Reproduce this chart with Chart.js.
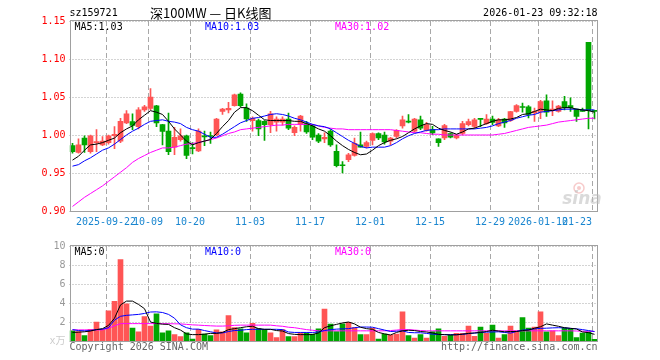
<!DOCTYPE html>
<html>
<head>
<meta charset="utf-8">
<script src="https://cdn.jsdelivr.net/npm/chart.js@4.4.1/dist/chart.umd.min.js"></script>
<style>
  html, body { margin: 0; padding: 0; background: #fff; }
  #wrap { position: relative; width: 660px; height: 360px; }
  canvas { position: absolute; left: 0; }
  #kline { top: 0; }
  #vol { top: 236px; }
</style>
</head>
<body>
<div id="wrap">
  <canvas id="kline" width="660" height="236"></canvas>
  <canvas id="vol" width="660" height="124"></canvas>
</div>
<script>
const DATES = [
  "2025-09-12", "2025-09-15", "2025-09-16", "2025-09-17", "2025-09-18", "2025-09-19", "2025-09-22", "2025-09-23", "2025-09-24", "2025-09-25",
  "2025-09-26", "2025-09-29", "2025-09-30", "2025-10-09", "2025-10-10", "2025-10-13", "2025-10-14", "2025-10-15", "2025-10-16", "2025-10-17",
  "2025-10-20", "2025-10-21", "2025-10-22", "2025-10-23", "2025-10-24", "2025-10-27", "2025-10-28", "2025-10-29", "2025-10-30", "2025-10-31",
  "2025-11-03", "2025-11-04", "2025-11-05", "2025-11-06", "2025-11-07", "2025-11-10", "2025-11-11", "2025-11-12", "2025-11-13", "2025-11-14",
  "2025-11-17", "2025-11-18", "2025-11-19", "2025-11-20", "2025-11-21", "2025-11-24", "2025-11-25", "2025-11-26", "2025-11-27", "2025-11-28",
  "2025-12-01", "2025-12-02", "2025-12-03", "2025-12-04", "2025-12-05", "2025-12-08", "2025-12-09", "2025-12-10", "2025-12-11", "2025-12-12",
  "2025-12-15", "2025-12-16", "2025-12-17", "2025-12-18", "2025-12-19", "2025-12-22", "2025-12-23", "2025-12-24", "2025-12-25", "2025-12-26",
  "2025-12-29", "2025-12-30", "2025-12-31", "2026-01-05", "2026-01-06", "2026-01-07", "2026-01-08", "2026-01-09", "2026-01-12", "2026-01-13",
  "2026-01-14", "2026-01-15", "2026-01-16", "2026-01-19", "2026-01-20", "2026-01-21", "2026-01-22", "2026-01-23"
];

const OPEN = [
  0.986, 0.977, 0.996, 0.978, 0.990, 0.987, 0.990, 0.999, 0.992, 1.016,
  1.0175, 1.011, 1.033, 1.035, 1.0385, 1.0136, 1.005, 0.984, 0.994, 0.999,
  0.9835, 0.979, 0.9985, 0.999, 1.000, 1.031, 1.033, 1.0386, 1.054, 1.0355,
  1.019, 1.019, 1.018, 1.0136, 1.017, 1.017, 1.021, 1.003, 1.014, 1.015,
  1.012, 1.000, 0.995, 1.005, 0.9785, 0.9605, 0.9675, 0.973, 0.987, 0.985,
  0.993, 1.002, 1.000, 0.992, 0.998, 1.012, 1.0175, 1.005, 1.020, 1.006,
  1.007, 0.995, 0.996, 1.002, 0.996, 1.002, 1.0136, 1.0114, 1.021, 1.015,
  1.021, 1.012, 1.021, 1.0193, 1.031, 1.037, 1.037, 1.029, 1.031, 1.045,
  1.032, 1.031, 1.044, 1.0386, 1.034, 1.0315, 1.122, 1.032
];
const HIGH = [
  0.989, 0.995, 0.999, 1.000, 1.007, 0.998, 1.000, 1.011, 1.022, 1.032,
  1.028, 1.036, 1.039, 1.061, 1.039, 1.014, 1.029, 1.010, 1.008, 1.000,
  0.990, 1.008, 1.005, 1.004, 1.022, 1.035, 1.043, 1.054, 1.0555, 1.041,
  1.024, 1.021, 1.019, 1.031, 1.024, 1.024, 1.029, 1.012, 1.026, 1.018,
  1.014, 1.002, 1.003, 1.007, 0.987, 0.965, 0.976, 0.996, 1.004, 0.992,
  1.003, 1.003, 1.004, 0.997, 1.007, 1.025, 1.027, 1.022, 1.025, 1.0167,
  1.0114, 0.995, 1.014, 1.003, 1.001, 1.018, 1.021, 1.022, 1.021, 1.027,
  1.025, 1.022, 1.022, 1.031, 1.040, 1.042, 1.0386, 1.0355, 1.0456, 1.053,
  1.045, 1.039, 1.051, 1.049, 1.034, 1.0355, 1.122, 1.032
];
const LOW = [
  0.976, 0.976, 0.977, 0.976, 0.978, 0.986, 0.988, 0.982, 0.990, 1.015,
  1.007, 1.008, 1.031, 1.033, 1.011, 0.987, 0.974, 0.974, 0.992, 0.969,
  0.975, 0.978, 0.986, 0.989, 0.999, 1.027, 1.029, 1.038, 1.037, 1.018,
  1.005, 0.999, 0.993, 1.003, 1.005, 1.013, 1.007, 0.999, 1.005, 1.002,
  0.994, 0.990, 0.990, 0.985, 0.958, 0.950, 0.965, 0.972, 0.984, 0.983,
  0.987, 0.994, 0.988, 0.987, 0.996, 1.009, 1.016, 1.0035, 1.007, 1.005,
  1.0004, 0.985, 0.994, 0.996, 0.995, 1.000, 1.012, 1.009, 1.011, 1.014,
  1.0136, 1.011, 1.010, 1.018, 1.030, 1.030, 1.0224, 1.018, 1.0215, 1.0245,
  1.0254, 1.030, 1.033, 1.031, 1.018, 1.031, 1.008, 1.021
];
const CLOSE = [
  0.978, 0.987, 0.987, 0.999, 0.991, 0.992, 0.999, 1.001, 1.018, 1.028,
  1.0126, 1.033, 1.037, 1.050, 1.016, 1.0047, 0.978, 0.997, 0.999, 0.973,
  0.982, 1.005, 0.9975, 0.998, 1.021, 1.034, 1.035, 1.053, 1.0386, 1.021,
  1.022, 1.008, 1.0136, 1.028, 1.021, 1.021, 1.009, 1.010, 1.025, 1.004,
  0.997, 0.992, 0.997, 0.987, 0.9596, 0.9595, 0.974, 0.989, 0.984, 0.990,
  1.002, 0.996, 0.991, 0.996, 1.006, 1.020, 1.017, 1.021, 1.009, 1.0136,
  1.0026, 0.990, 1.0125, 0.997, 1.000, 1.015, 1.0175, 1.020, 1.0205, 1.021,
  1.0167, 1.020, 1.016, 1.0307, 1.0386, 1.0362, 1.027, 1.031, 1.044, 1.030,
  1.034, 1.038, 1.036, 1.036, 1.0246, 1.031, 1.032, 1.031
];

const MA5 = [
  0.967, 0.972, 0.980, 0.987, 0.988, 0.990, 0.993, 0.996, 1.003, 1.008,
  1.012, 1.020, 1.026, 1.032, 1.030, 1.027, 1.018, 1.008, 1.000, 0.992,
  0.987, 0.990, 0.992, 0.994, 1.002, 1.011, 1.019, 1.030, 1.036, 1.036,
  1.032, 1.026, 1.020, 1.019, 1.019, 1.019, 1.019, 1.018, 1.018, 1.015,
  1.012, 1.008, 1.005, 0.999, 0.992, 0.986, 0.981, 0.977, 0.974, 0.975,
  0.980, 0.986, 0.990, 0.993, 0.995, 0.998, 1.003, 1.008, 1.012, 1.015,
  1.014, 1.009, 1.006, 1.004, 1.001, 1.004, 1.008, 1.009, 1.012, 1.015,
  1.018, 1.020, 1.020, 1.021, 1.023, 1.027, 1.028, 1.031, 1.034, 1.033,
  1.032, 1.035, 1.036, 1.036, 1.034, 1.033, 1.032, 1.030
];
const MA10 = [
  0.959, 0.961, 0.966, 0.970, 0.975, 0.980, 0.983, 0.988, 0.994, 1.000,
  1.005, 1.009, 1.014, 1.018, 1.019, 1.020, 1.018, 1.017, 1.015, 1.010,
  1.007, 1.005, 1.001, 0.997, 0.997, 1.001, 1.006, 1.011, 1.016, 1.019,
  1.022, 1.023, 1.025, 1.027, 1.028, 1.027, 1.025, 1.022, 1.020, 1.017,
  1.014, 1.012, 1.011, 1.008, 1.003, 0.998, 0.993, 0.989, 0.985, 0.983,
  0.984, 0.984, 0.984, 0.986, 0.990, 0.995, 0.999, 1.002, 1.004, 1.006,
  1.007, 1.007, 1.008, 1.008, 1.008, 1.008, 1.008, 1.008, 1.009, 1.010,
  1.012, 1.015, 1.017, 1.019, 1.022, 1.024, 1.026, 1.027, 1.030, 1.031,
  1.032, 1.033, 1.034, 1.034, 1.034, 1.033, 1.033, 1.033
];
const MA30 = [
  0.906, 0.912, 0.918, 0.923, 0.928, 0.933, 0.939, 0.945, 0.951, 0.957,
  0.964, 0.969, 0.973, 0.977, 0.980, 0.983, 0.983, 0.984, 0.986, 0.988,
  0.989, 0.990, 0.992, 0.994, 0.996, 0.999, 1.002, 1.004, 1.007, 1.008,
  1.009, 1.010, 1.011, 1.012, 1.013, 1.013, 1.014, 1.014, 1.014, 1.014,
  1.014, 1.012, 1.010, 1.009, 1.008, 1.008, 1.007, 1.007, 1.007, 1.007,
  1.007, 1.007, 1.007, 1.007, 1.006, 1.005, 1.004, 1.003, 1.003, 1.002,
  1.001, 1.001, 1.000, 1.000, 1.000, 1.000, 1.000, 1.000, 1.000, 1.000,
  1.000, 1.001, 1.002, 1.004, 1.006, 1.008, 1.010, 1.011, 1.012, 1.013,
  1.015, 1.017, 1.018, 1.019, 1.020, 1.021, 1.022, 1.022
];

const VOLUME = [
  1.07, 1.0, 0.57, 1.23, 2.0, 1.23, 3.17, 4.17, 8.57, 3.9,
  1.37, 0.97, 2.57, 1.57, 2.87, 0.87, 1.07, 0.67, 0.47, 0.87,
  0.2, 1.23, 0.73, 0.57, 1.17, 0.97, 2.67, 1.4, 1.27, 0.87,
  1.87, 1.3, 1.23, 0.87, 0.37, 1.2, 0.47, 0.47, 0.87, 0.87,
  0.73, 1.27, 3.37, 1.77, 1.0, 1.8, 1.97, 1.4, 0.67, 0.67,
  1.33, 0.2, 0.73, 0.63, 0.73, 3.07, 0.57, 0.3, 0.67, 0.3,
  1.0, 1.27, 0.5, 0.63, 0.8, 0.8, 1.57, 0.5, 1.47, 0.8,
  1.67, 0.3, 0.67, 1.57, 1.07, 2.47, 1.37, 1.47, 3.07, 0.97,
  1.07, 0.57, 1.37, 1.27, 0.37, 0.83, 0.97, 0.17
];
const VOL_MA5 = [
  0.9, 0.93, 0.97, 1.05, 1.2, 1.3, 1.64, 2.4, 3.8, 4.2,
  4.2, 3.85, 3.4, 2.0, 1.85, 1.77, 1.75, 1.4, 1.15, 0.75,
  0.67, 0.67, 0.72, 0.8, 0.8, 0.9, 1.2, 1.3, 1.4, 1.5,
  1.55, 1.3, 1.23, 1.23, 1.1, 1.05, 0.78, 0.7, 0.67, 0.67,
  0.68, 0.85, 1.4, 1.6, 1.75, 1.9, 2.0, 1.8, 1.45, 1.3,
  1.23, 0.9, 0.75, 0.63, 0.9, 1.07, 1.13, 1.1, 1.0, 0.95,
  0.85, 0.7, 0.67, 0.63, 0.65, 0.72, 0.8, 0.85, 0.9, 1.0,
  1.13, 1.05, 0.97, 1.0, 1.0, 1.1, 1.15, 1.35, 1.5, 1.8,
  1.67, 1.55, 1.4, 1.33, 1.27, 0.95, 0.88, 0.7
];
const VOL_MA10 = [
  1.2, 1.1, 1.07, 1.1, 1.2, 1.25, 1.4, 2.2, 2.6, 2.7,
  2.75, 2.8, 2.9, 3.05, 3.07, 3.0, 2.8, 2.4, 1.7, 1.4,
  1.25, 1.25, 1.1, 0.97, 0.85, 0.85, 1.0, 1.1, 1.13, 1.2,
  1.23, 1.23, 1.23, 1.23, 1.23, 1.2, 0.95, 0.9, 0.9, 0.9,
  0.9, 0.95, 1.1, 1.2, 1.25, 1.28, 1.3, 1.4, 1.47, 1.47,
  1.45, 1.3, 1.15, 1.0, 1.03, 1.07, 0.9, 0.87, 0.87, 0.8,
  0.72, 0.68, 0.67, 0.67, 0.67, 0.7, 0.78, 0.83, 0.9, 0.93,
  0.95, 0.97, 0.9, 0.83, 1.0, 1.15, 1.2, 1.27, 1.33, 1.35,
  1.38, 1.4, 1.38, 1.33, 1.28, 1.2, 1.1, 1.0
];
const VOL_MA30 = [
  1.17, 1.17, 1.17, 1.17, 1.17, 1.17, 1.35, 1.6, 1.83, 1.83,
  1.83, 1.83, 1.83, 1.83, 1.83, 1.83, 1.82, 1.81, 1.8, 1.75,
  1.7, 1.67, 1.63, 1.6, 1.57, 1.57, 1.6, 1.65, 1.67, 1.67,
  1.67, 1.67, 1.67, 1.67, 1.6, 1.55, 1.45, 1.4, 1.3, 1.2,
  1.13, 1.07, 1.07, 1.07, 1.07, 1.07, 1.07, 1.07, 1.07, 1.07,
  1.07, 1.07, 1.07, 1.1, 1.15, 1.2, 1.2, 1.15, 1.1, 1.07,
  1.07, 1.07, 1.07, 1.07, 1.07, 1.07, 1.07, 1.07, 1.07, 1.07,
  1.07, 1.07, 1.07, 1.07, 1.07, 1.07, 1.07, 1.07, 1.07, 1.07,
  1.07, 1.07, 1.07, 1.07, 1.05, 1.03, 1.02, 1.0
];

// dates that get a dashed grid line and a label under the price panel
const TICK_DATES = ["2025-09-22", "2025-10-09", "2025-10-20", "2025-11-03", "2025-11-17", "2025-12-01", "2025-12-15", "2025-12-29", "2026-01-12", "2026-01-23"];
const TICK_TEXT = ["2025-09-22", "10-09", "10-20", "11-03", "11-17", "12-01", "12-15", "12-29", "2026-01-12", "01-23"];

const MONO = '"DejaVu Sans Mono", "Noto Sans CJK SC", monospace';
const UP = "#ff5555";
const DOWN = "#00a600";
const FRAME = "#a0a0a0";
const GRID = "#a8a8a8";

const tickIdx = TICK_DATES.map((d) => DATES.indexOf(d));
const candleColor = DATES.map((_, i) => (CLOSE[i] >= OPEN[i] ? UP : DOWN));

function maLine(label, data, color) {
  return { type: "line", label, data, borderColor: color, borderWidth: 1, pointRadius: 0, tension: 0, fill: false, order: 0 };
}

function xScale(height) {
  return {
    type: "category",
    offset: true,
    grid: { display: false },
    border: { display: false },
    ticks: { display: false },
    afterFit: (s) => { s.height = height; },
  };
}

function halfStep(x) {
  return (x.getPixelForValue(1) - x.getPixelForValue(0)) / 2;
}

// dotted price/volume lines and dashed date lines, under the bars
const gridLines = {
  id: "gridLines",
  beforeDatasetsDraw(chart) {
    const { ctx, chartArea: a, scales: { x, y } } = chart;
    const half = halfStep(x);
    ctx.save();
    ctx.strokeStyle = GRID;
    ctx.lineWidth = 1;
    ctx.setLineDash([1, 2]);
    y.ticks.forEach((t) => {
      const py = Math.round(y.getPixelForValue(t.value)) + 0.5;
      ctx.beginPath();
      ctx.moveTo(a.left, py);
      ctx.lineTo(a.right, py);
      ctx.stroke();
    });
    ctx.setLineDash([5, 3]);
    tickIdx.forEach((idx) => {
      const px = Math.round(x.getPixelForValue(idx) - half) + 0.5;
      ctx.beginPath();
      ctx.moveTo(px, a.top);
      ctx.lineTo(px, a.bottom);
      ctx.stroke();
    });
    ctx.restore();
  },
};

function frame(ctx, a) {
  ctx.strokeStyle = FRAME;
  ctx.lineWidth = 1;
  ctx.setLineDash([]);
  const l = Math.ceil(a.left) + 0.5;
  const t = Math.round(a.top) - 0.5;
  const r = Math.floor(a.right) + 0.5;
  const b = Math.round(a.bottom) + 0.5;
  ctx.strokeRect(l, t, r - l, b - t);
}

function text(ctx, str, x, y, color, font, align) {
  ctx.fillStyle = color;
  ctx.font = font;
  ctx.textAlign = align || "left";
  ctx.textBaseline = "middle";
  ctx.fillText(str, x, y);
}

const klineDecor = {
  id: "klineDecor",
  afterDraw(chart) {
    const { ctx, chartArea: a, scales } = chart;
    const x = scales.x;
    const half = halfStep(x);
    ctx.save();
    frame(ctx, a);

    text(ctx, "sz159721", a.left, 13, "#000", "10px " + MONO);
    text(ctx, "深100MW — 日K线图", 150, 13, "#000", '13px "Noto Sans CJK SC", sans-serif');
    text(ctx, "2026-01-23 09:32:18", a.right, 13, "#000", "10px " + MONO, "right");

    text(ctx, "MA5:1.03", a.left + 5, a.top + 6, "#000", "10px " + MONO);
    text(ctx, "MA10:1.03", 205, a.top + 6, "#0000ff", "10px " + MONO);
    text(ctx, "MA30:1.02", 335, a.top + 6, "#ff00ff", "10px " + MONO);

    tickIdx.forEach((idx, k) => {
      const px = Math.round(x.getPixelForValue(idx) - half);
      const last = k === tickIdx.length - 1;
      text(ctx, TICK_TEXT[k], px, a.bottom + 11, "#1a86d0", "10px " + MONO, last ? "right" : "center");
    });

    // faint sina watermark
    ctx.globalAlpha = 0.55;
    ctx.strokeStyle = "#f0a0a0";
    ctx.lineWidth = 1.5;
    ctx.beginPath();
    ctx.arc(579, 188, 5, 0, Math.PI * 2);
    ctx.stroke();
    ctx.fillStyle = "#f0a0a0";
    ctx.beginPath();
    ctx.arc(579, 188, 2, 0, Math.PI * 2);
    ctx.fill();
    text(ctx, "sina", 582, 200, "#bbbbbb", 'italic bold 17px "DejaVu Sans", sans-serif', "center");
    ctx.restore();
  },
};

const volDecor = {
  id: "volDecor",
  afterDraw(chart) {
    const { ctx, chartArea: a } = chart;
    ctx.save();
    frame(ctx, a);
    text(ctx, "MA5:0", a.left + 5, a.top + 6, "#000", "10px " + MONO);
    text(ctx, "MA10:0", 205, a.top + 6, "#0000ff", "10px " + MONO);
    text(ctx, "MA30:0", 335, a.top + 6, "#ff00ff", "10px " + MONO);
    text(ctx, "Copyright 2026 SINA.COM", a.left, a.bottom + 6, "#666", "10px " + MONO);
    text(ctx, "http://finance.sina.com.cn", a.right, a.bottom + 6, "#666", "10px " + MONO, "right");
    ctx.restore();
  },
};

new Chart(document.getElementById("kline"), {
  type: "bar",
  data: {
    labels: DATES,
    datasets: [
      maLine("MA5", MA5, "#000000"),
      maLine("MA10", MA10, "#0000ff"),
      maLine("MA30", MA30, "#ff00ff"),
      {
        label: "body",
        data: DATES.map((_, i) => [OPEN[i], CLOSE[i]]),
        backgroundColor: candleColor,
        barThickness: 5,
        minBarLength: 1,
        grouped: false,
        order: 1,
      },
      {
        label: "wick",
        data: DATES.map((_, i) => [LOW[i], HIGH[i]]),
        backgroundColor: candleColor,
        barThickness: 1,
        grouped: false,
        order: 2,
      },
    ],
  },
  options: {
    responsive: false,
    devicePixelRatio: 1,
    animation: false,
    layout: { padding: { top: 21, right: 62.5, left: 0, bottom: 0 } },
    plugins: { legend: { display: false }, tooltip: { enabled: false } },
    scales: {
      x: xScale(25),
      y: {
        min: 0.9,
        max: 1.15,
        grid: { display: false, drawTicks: false },
        border: { display: false },
        ticks: {
          stepSize: 0.05,
          autoSkip: false,
          padding: 4,
          color: "#ff0000",
          font: { family: MONO, size: 10 },
          callback: (v) => Number(v).toFixed(2),
        },
        afterFit: (s) => { s.width = 69.5; },
      },
    },
  },
  plugins: [gridLines, klineDecor],
});

new Chart(document.getElementById("vol"), {
  type: "bar",
  data: {
    labels: DATES,
    datasets: [
      maLine("MA5", VOL_MA5, "#000000"),
      maLine("MA10", VOL_MA10, "#0000ff"),
      maLine("MA30", VOL_MA30, "#ff00ff"),
      { label: "vol", data: VOLUME, backgroundColor: candleColor, barThickness: 5, grouped: false, order: 1 },
    ],
  },
  options: {
    responsive: false,
    devicePixelRatio: 1,
    animation: false,
    layout: { padding: { top: 4, right: 62.5, left: 0, bottom: 0 } },
    plugins: { legend: { display: false }, tooltip: { enabled: false } },
    scales: {
      x: xScale(19),
      y: {
        min: 0,
        max: 10,
        grid: { display: false, drawTicks: false },
        border: { display: false },
        ticks: {
          stepSize: 2,
          autoSkip: false,
          padding: 4,
          color: (c) => (c.tick && c.tick.value === 0 ? "#cccccc" : "#999999"),
          font: { family: MONO, size: 10 },
          callback: (v) => (v === 0 ? "x万" : String(v)),
        },
        afterFit: (s) => { s.width = 69.5; },
      },
    },
  },
  plugins: [gridLines, volDecor],
});
</script>
</body>
</html>
